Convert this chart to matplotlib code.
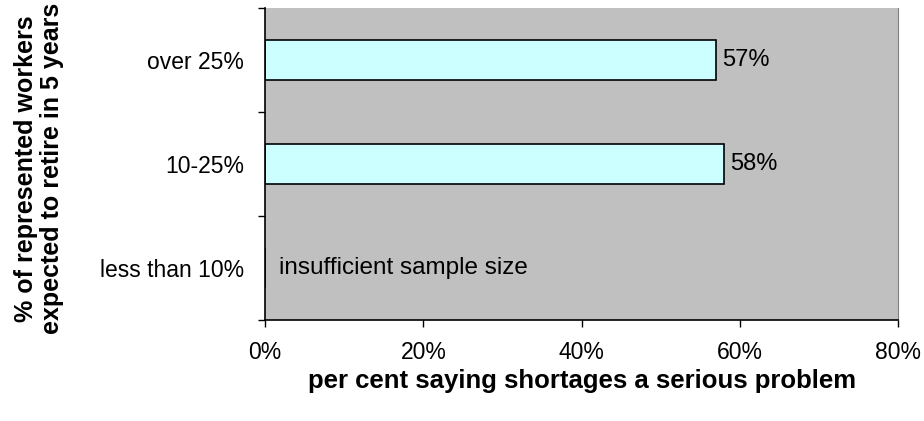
import numpy as np
import matplotlib.pyplot as plt

plt.rcParams['font.family'] = ['Liberation Sans', 'DejaVu Sans']

categories = ['less than 10%', '10-25%', 'over 25%']
values = [np.nan, 58, 57]
bar_labels = ['', '58%', '57%']
note = 'insufficient sample size'
xticks = [0, 20, 40, 60, 80]

fig = plt.figure(figsize=(9.24, 4.21), dpi=100)
ax = fig.add_axes([0.287, 0.240, 0.685, 0.741])
ax.set_facecolor('#C0C0C0')

y = np.arange(len(categories))
ax.barh(y, np.nan_to_num(values), height=0.38, color='#CCFFFF',
        edgecolor='black', linewidth=1.2, zorder=2)
for yi, v, lab in zip(y, values, bar_labels):
    if not np.isnan(v):
        ax.text(v + 0.8, yi, lab, va='center', ha='left', fontsize=17)
ax.text(1.8, 0, note, va='center', ha='left', fontsize=17.5)

ax.set_xlim(0, 80)
ax.set_ylim(-0.5, 2.5)
ax.set_xticks(xticks)
ax.set_xticklabels([f'{t}%' for t in xticks], fontsize=16.5)
ax.set_yticks(y)
ax.set_yticklabels(categories, fontsize=16.5)
ax.set_yticks([-0.5, 0.5, 1.5, 2.5], minor=True)
ax.tick_params(axis='y', which='major', length=0, pad=15)
ax.tick_params(axis='y', which='minor', length=5, width=1)
ax.tick_params(axis='x', length=5, width=1, pad=10)

ax.spines['top'].set_visible(False)
ax.spines['right'].set_color('#808080')
ax.spines['left'].set_linewidth(1.2)
ax.spines['bottom'].set_linewidth(1.2)

ax.set_xlabel('per cent saying shortages a serious problem', fontsize=18.5,
              fontweight='bold', labelpad=4)
fig.text(0.042, 0.6, '% of represented workers\nexpected to retire in 5 years',
         rotation=90, ha='center', va='center', fontsize=18, fontweight='bold',
         linespacing=1.1)

fig.savefig('out.png', dpi=100)
